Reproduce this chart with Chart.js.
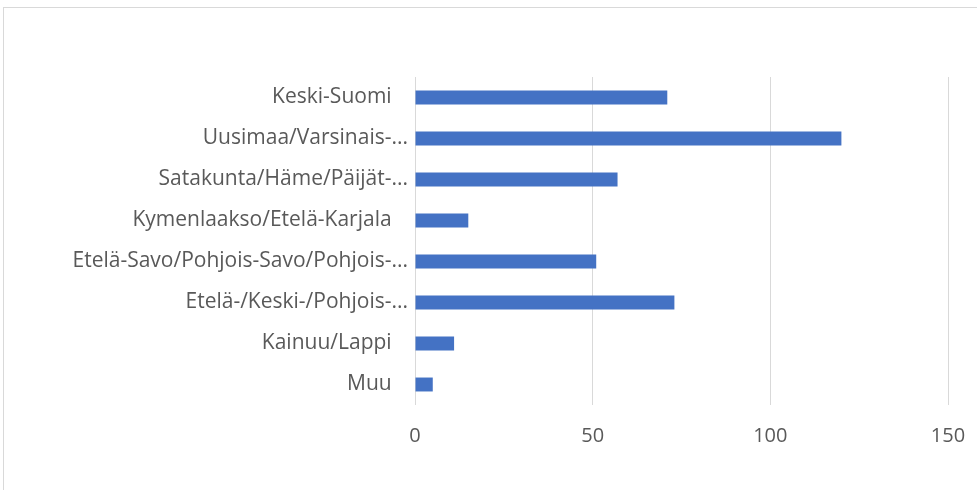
<!DOCTYPE html>
<html>
<head>
<meta charset="utf-8">
<script src="https://cdn.jsdelivr.net/npm/chart.js@4"></script>
<style>
  html, body { margin: 0; padding: 0; background: #fff; overflow: hidden; width: 977px; height: 490px; }
  #frame { position: absolute; left: 3px; top: 7px; width: 1200px; height: 1200px; border: 1px solid #d9d9d9; box-sizing: border-box; }
  #wrap { position: absolute; left: 0; top: 0; width: 977px; height: 490px; }
</style>
</head>
<body>
<div id="frame"></div>
<div id="wrap"><canvas id="c" width="977" height="490"></canvas></div>
<script>
const categories = [
  "Keski-Suomi   ",
  "Uusimaa/Varsinais-...",
  "Satakunta/Häme/Päijät-...",
  "Kymenlaakso/Etelä-Karjala   ",
  "Etelä-Savo/Pohjois-Savo/Pohjois-...",
  "Etelä-/Keski-/Pohjois-...",
  "Kainuu/Lappi   ",
  "Muu   "
];
const values = [71, 120, 57, 15, 51, 73, 11, 5];
const xTicks = [0, 50, 100, 150];

const FONT = "'Open Sans', sans-serif";
const TXT = "#595959";

new Chart(document.getElementById('c'), {
  type: 'bar',
  data: {
    labels: categories,
    datasets: [{
      data: values,
      backgroundColor: '#4472C4',
      borderColor: '#4472C4',
      borderWidth: 0,
      categoryPercentage: 1,
      barPercentage: 0.34
    }]
  },
  options: {
    indexAxis: 'y',
    responsive: false,
    animation: false,
    layout: { padding: { left: 0, right: 29, top: 77, bottom: 0 } },
    plugins: { legend: { display: false }, tooltip: { enabled: false } },
    scales: {
      x: {
        min: xTicks[0],
        max: xTicks[xTicks.length - 1],
        afterBuildTicks: (s) => { s.ticks = xTicks.map(v => ({ value: v })); },
        afterFit: (s) => { s.height = 85; s.paddingRight = 0; s.paddingLeft = 0; },
        grid: { color: '#d9d9d9', lineWidth: 1, drawTicks: false },
        border: { display: false },
        ticks: { color: TXT, font: { family: FONT, size: 20 }, padding: 19 }
      },
      y: {
        afterFit: (s) => { s.width = 415; s.paddingTop = 0; s.paddingBottom = 0; },
        grid: { display: false, drawTicks: false },
        border: { display: false },
        ticks: { color: TXT, font: { family: FONT, size: 21 }, padding: 7, autoSkip: false }
      }
    }
  }
});
</script>
</body>
</html>
